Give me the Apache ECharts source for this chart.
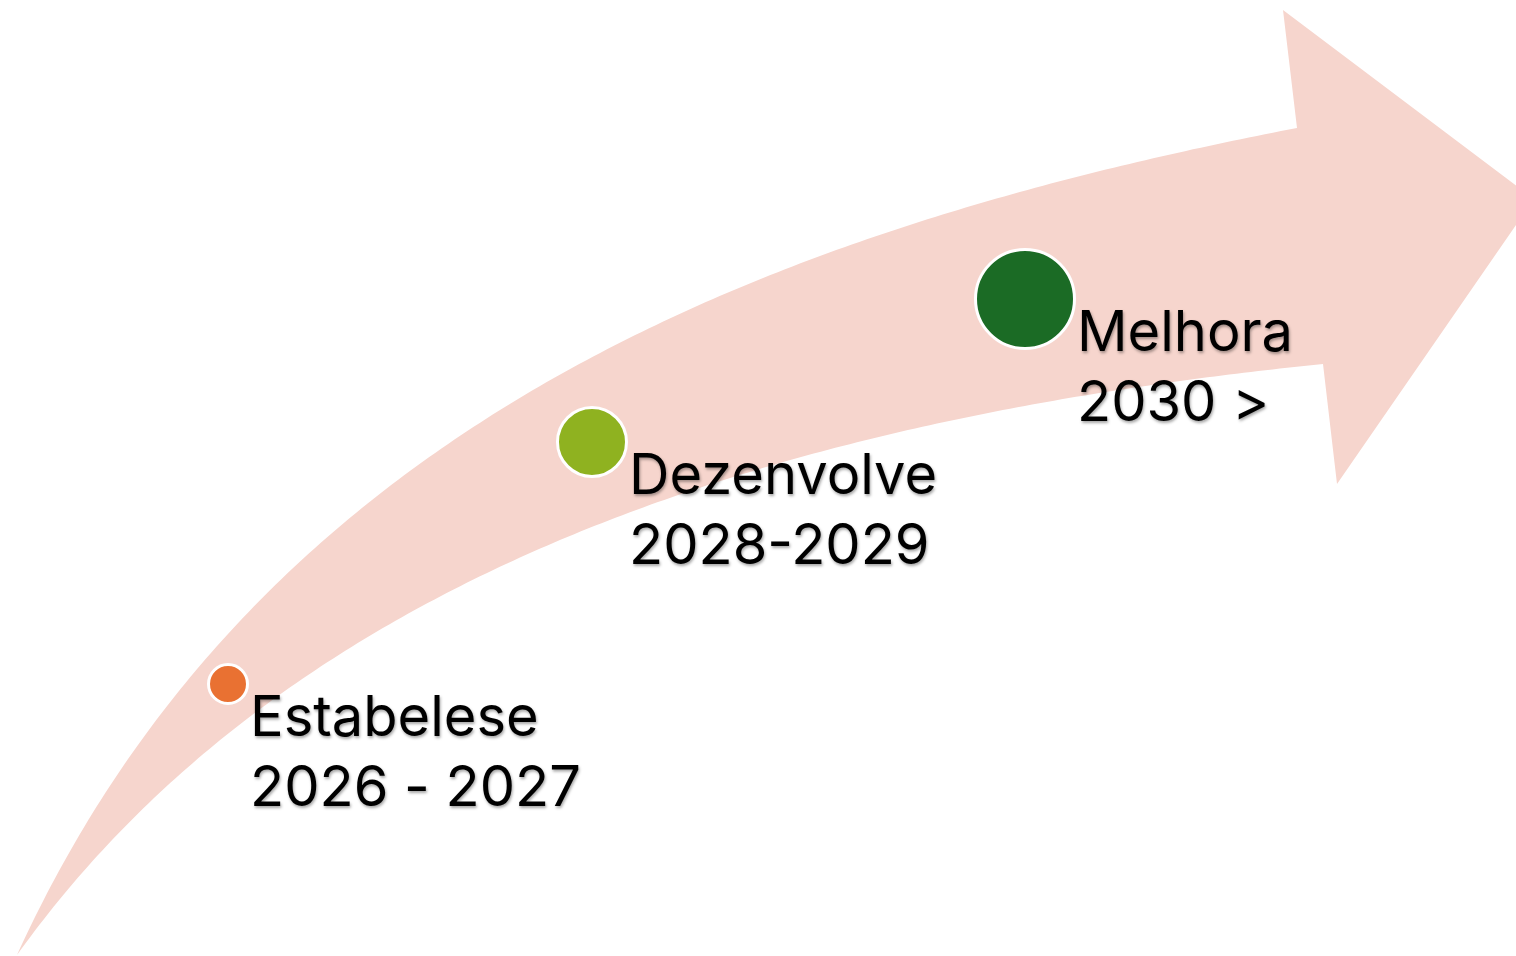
<!DOCTYPE html>
<html>
<head>
<meta charset="utf-8">
<script src="https://cdn.jsdelivr.net/npm/echarts@6/dist/echarts.min.js"></script>
<style>
html,body{margin:0;padding:0;background:#ffffff;}
#chart{width:1516px;height:956px;}
</style>
</head>
<body>
<div id="chart"></div>
<script>
// ---- data ----
const stageNames = ['Estabelese', 'Dezenvolve', 'Melhora'];
const stagePeriods = ['2026 - 2027', '2028-2029', '2030 >'];
const stageX = [228, 592, 1025];
const stageY = [684, 442, 299];
const stageLevel = [1, 2, 3];

// arrow outline (axis units)
const arrowUpperEdge = [[17,955],[50,893],[100,812],[177,703],[255,600],[297,560],[400,476],[533,389],[667,319],[800,266],[933,219],[1067,179],[1200,148],[1297,128]];
const arrowLowerEdge = [[17,955],[83,877],[150,802],[250,714],[400,614],[540,549],[633,518],[800,457],[933,423],[1067,397],[1200,377],[1323,364]];
const arrowHead = [[1297,128],[1283,10],[1534,199],[1337,484],[1323,364]];

// ---- styles ----
const stageColors = ['#E97132', '#8FB220', '#1B6B25'];
const arrowColor = '#F6D5CD';
const FONT = 'Inter';

function sizeOf(level) { return 39 + (level - 1) * 30; }

// least-squares cubic Bezier through an edge (end points fixed)
function fitCubic(Q) {
  const n = Q.length, P0 = Q[0], P3 = Q[n - 1];
  let t = [0];
  for (let i = 1; i < n; i++) t.push(t[i - 1] + Math.hypot(Q[i][0] - Q[i - 1][0], Q[i][1] - Q[i - 1][1]));
  t = t.map(v => v / t[n - 1]);
  let P1, P2;
  const bez = (u) => {
    const a = (1 - u) ** 3, b = 3 * u * (1 - u) ** 2, c = 3 * u * u * (1 - u), d = u ** 3;
    return [a * P0[0] + b * P1[0] + c * P2[0] + d * P3[0], a * P0[1] + b * P1[1] + c * P2[1] + d * P3[1]];
  };
  for (let iter = 0; iter < 30; iter++) {
    let A11 = 0, A12 = 0, A22 = 0, C1 = [0, 0], C2 = [0, 0];
    for (let i = 0; i < n; i++) {
      const u = t[i];
      const b0 = (1 - u) ** 3, b1 = 3 * u * (1 - u) ** 2, b2 = 3 * u * u * (1 - u), b3 = u ** 3;
      A11 += b1 * b1; A12 += b1 * b2; A22 += b2 * b2;
      for (let k = 0; k < 2; k++) {
        const r = Q[i][k] - b0 * P0[k] - b3 * P3[k];
        C1[k] += b1 * r; C2[k] += b2 * r;
      }
    }
    const det = A11 * A22 - A12 * A12;
    P1 = [0, 1].map(k => (C1[k] * A22 - C2[k] * A12) / det);
    P2 = [0, 1].map(k => (A11 * C2[k] - A12 * C1[k]) / det);
    // reparameterize: nearest point on curve
    for (let i = 1; i < n - 1; i++) {
      let best = t[i], bd = Infinity;
      for (let s = -40; s <= 40; s++) {
        const u = Math.min(1, Math.max(0, t[i] + s * 0.0015));
        const p = bez(u);
        const dd = (p[0] - Q[i][0]) ** 2 + (p[1] - Q[i][1]) ** 2;
        if (dd < bd) { bd = dd; best = u; }
      }
      t[i] = best;
    }
  }
  const out = [];
  for (let s = 0; s <= 200; s++) out.push(bez(s / 200));
  return out;
}

const upperCurve = fitCubic(arrowUpperEdge);
const lowerCurve = fitCubic(arrowLowerEdge);

const chart = echarts.init(document.getElementById('chart'), null, { renderer: 'canvas' });

const option = {
  animation: false,
  backgroundColor: '#ffffff',
  grid: { left: 0, right: 0, top: 0, bottom: 0 },
  xAxis: { type: 'value', min: 0, max: 1516, show: false },
  yAxis: { type: 'value', min: 0, max: 956, inverse: true, show: false },
  series: [
    {
      type: 'custom',
      silent: true,
      data: [0],
      renderItem: function (params, api) {
        const up = upperCurve.map(p => api.coord(p));
        const lo = lowerCurve.map(p => api.coord(p)).reverse();
        const head = arrowHead.map(p => api.coord(p));
        const pts = up.concat(head.slice(1, head.length - 1)).concat(lo);
        return {
          type: 'polygon',
          shape: { points: pts },
          style: { fill: arrowColor, stroke: null }
        };
      },
      z: 1
    },
    {
      type: 'scatter',
      z: 5,
      data: stageX.map((x, i) => ({
        value: [x, stageY[i]],
        symbolSize: sizeOf(stageLevel[i]),
        itemStyle: { color: stageColors[i], borderColor: '#ffffff', borderWidth: 3, opacity: 1 },
        label: {
          formatter: stageNames[i] + '\n' + stagePeriods[i]
        }
      })),
      symbol: 'circle',
      itemStyle: { opacity: 1 },
      label: {
        show: true,
        position: 'right',
        distance: 1,
        align: 'left',
        verticalAlign: 'top',
        offset: [0, 0],
        fontFamily: FONT,
        fontSize: 56,
        lineHeight: 70,
        color: '#000000',
        opacity: 1,
        textShadowColor: 'rgba(0,0,0,0.35)',
        textShadowBlur: 3,
        textShadowOffsetX: 1,
        textShadowOffsetY: 2
      }
    }
  ]
};
chart.setOption(option);
</script>
</body>
</html>
